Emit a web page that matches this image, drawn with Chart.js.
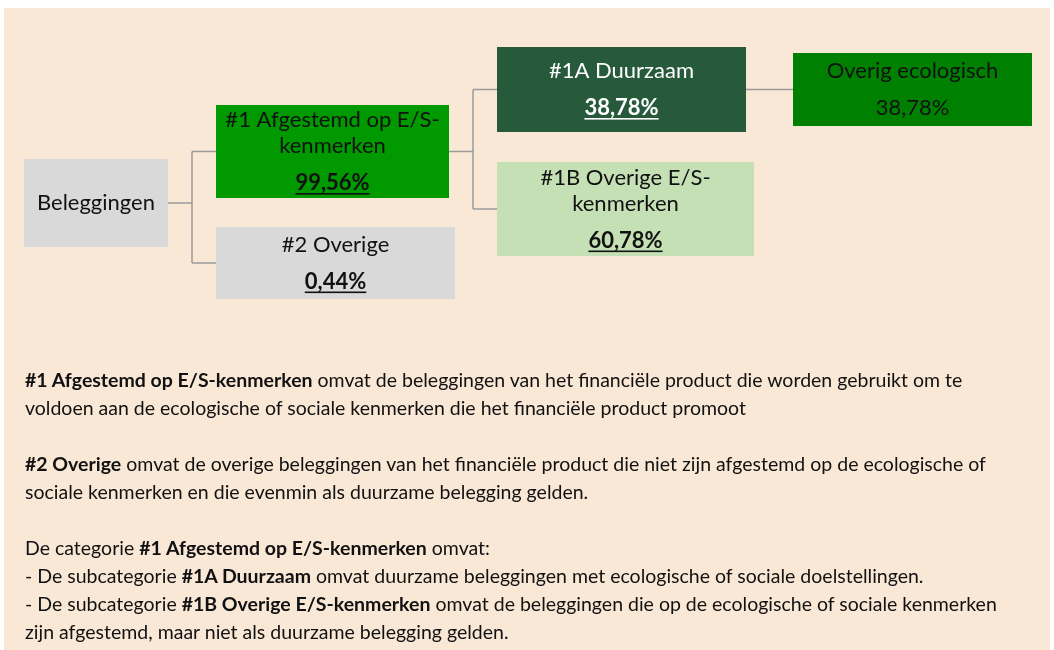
<!DOCTYPE html>
<html><head><meta charset="utf-8">
<script src="https://cdn.jsdelivr.net/npm/chart.js"></script>
<style>
html,body{margin:0;padding:0;background:#fff;}
#wrap{position:relative;width:1054px;height:650px;overflow:hidden;}
#panel{position:absolute;left:4px;top:8px;width:1046px;height:642px;background:#FAE8D7;}
#c{position:absolute;left:0;top:0;}
#notes{position:absolute;left:25px;top:366px;font-family:Lato,"Liberation Sans",sans-serif;font-size:19.5px;line-height:28px;color:#111;white-space:nowrap;}
#notes b{font-weight:700;}
</style></head><body>
<div id="wrap"><div id="panel"></div><canvas id="c" width="1054" height="650"></canvas>
<div id="notes"><b>#1 Afgestemd op E/S-kenmerken</b> omvat de beleggingen van het financiële product die worden gebruikt om te<br>voldoen aan de ecologische of sociale kenmerken die het financiële product promoot<br><br><b>#2 Overige</b> omvat de overige beleggingen van het financiële product die niet zijn afgestemd op de ecologische of<br>sociale kenmerken en die evenmin als duurzame belegging gelden.<br><br>De categorie <b>#1 Afgestemd op E/S-kenmerken</b> omvat:<br>- De subcategorie <b>#1A Duurzaam</b> omvat duurzame beleggingen met ecologische of sociale doelstellingen.<br>- De subcategorie <b>#1B Overige E/S-kenmerken</b> omvat de beleggingen die op de ecologische of sociale kenmerken<br>zijn afgestemd, maar niet als duurzame belegging gelden.</div>
</div>
<script>
// ---- data ----
const categories = [['Beleggingen'], ['#1 Afgestemd op E/S-', 'kenmerken'], ['#2 Overige'], ['#1A Duurzaam'], ['#1B Overige E/S-', 'kenmerken'], ['Overig ecologisch']];
const shares = [null, 99.56, 0.44, 38.78, 60.78, 38.78];
const parents = [-1, 0, 0, 1, 1, 3];

// ---- layout & style (not data) ----
const boxes = [[24,168,159,247],[216,449,105,198],[216,455,227,299],[497,746,47,132],[497,754,162,256],[793,1032,53,126]];
const elbowX = {0:192, 1:473};
const fills = ['#D9D9D9','#009900','#D9D9D9','#265A3B','#C5E0B4','#008000'];
const textColors = ['#111','#111','#111','#fff','#111','#111'];
const pctEmph = [true,true,true,true,true,false];
const lineColor = '#9A9A9A';
const FONT = 'Lato, "Liberation Sans", sans-serif';

function fmt(v){ return v.toFixed(2).replace('.', ',') + '%'; }

const centers = boxes.map(b => ({x:(b[0]+b[1])/2, y:(b[2]+b[3])/2}));

const treePlugin = {
  id:'tree',
  afterDatasetsDraw(chart){
    const ctx = chart.ctx, X = chart.scales.x, Y = chart.scales.y;
    const px = v => X.getPixelForValue(v), py = v => Y.getPixelForValue(v);
    ctx.save();
    ctx.strokeStyle = lineColor; ctx.lineWidth = 1.5;
    const kids = {};
    parents.forEach((p,i)=>{ if(p>=0){ (kids[p]=kids[p]||[]).push(i); } });
    Object.keys(kids).forEach(k=>{
      const p = +k, ch = kids[p], pb = boxes[p], pc = centers[p];
      ctx.beginPath();
      if (ch.length === 1) {
        const c = ch[0];
        ctx.moveTo(px(pb[1]), py(pc.y)); ctx.lineTo(px(boxes[c][0]), py(pc.y));
      } else {
        const ex = elbowX[p];
        ctx.moveTo(px(pb[1]), py(pc.y)); ctx.lineTo(px(ex), py(pc.y));
        const ys = ch.map(c=>centers[c].y);
        ctx.moveTo(px(ex), py(Math.min(...ys))); ctx.lineTo(px(ex), py(Math.max(...ys)));
        ch.forEach(c=>{ ctx.moveTo(px(ex), py(centers[c].y)); ctx.lineTo(px(boxes[c][0]), py(centers[c].y)); });
      }
      ctx.stroke();
    });
    ctx.textAlign = 'center'; ctx.textBaseline = 'middle';
    boxes.forEach((b,i)=>{
      ctx.fillStyle = fills[i];
      ctx.fillRect(px(b[0]), py(b[2]), px(b[1])-px(b[0]), py(b[3])-py(b[2]));
      const lines = categories[i];
      const hasPct = shares[i] !== null;
      const blockH = (lines.length-1)*26 + (hasPct?37:0);
      let y0 = centers[i].y - blockH/2;
      const cx = px(centers[i].x);
      ctx.fillStyle = textColors[i];
      ctx.font = '22px ' + FONT;
      lines.forEach((l,j)=>{ ctx.fillText(l, cx, py(y0 + j*26)); });
      if (hasPct) {
        const yy = py(y0 + (lines.length-1)*26 + 37);
        const t = fmt(shares[i]);
        ctx.font = (pctEmph[i] ? 'bold ' : '') + '22px ' + FONT;
        ctx.fillText(t, cx, yy);
        if (pctEmph[i]) {
          const w = ctx.measureText(t).width;
          ctx.fillRect(cx - w/2, yy + 10, w, 1.6);
        }
      }
    });
    ctx.restore();
  }
};

new Chart(document.getElementById('c').getContext('2d'), {
  type:'scatter',
  data:{ labels: categories.map(c=>c.join(' ')), datasets:[{ data: centers, pointRadius:0 }] },
  options:{
    responsive:false, animation:false, events:[],
    layout:{padding:0},
    plugins:{legend:{display:false}, tooltip:{enabled:false}},
    scales:{
      x:{type:'linear', min:0, max:1054, display:false},
      y:{type:'linear', min:0, max:650, reverse:true, display:false}
    }
  },
  plugins:[treePlugin]
});
</script>
</body></html>
